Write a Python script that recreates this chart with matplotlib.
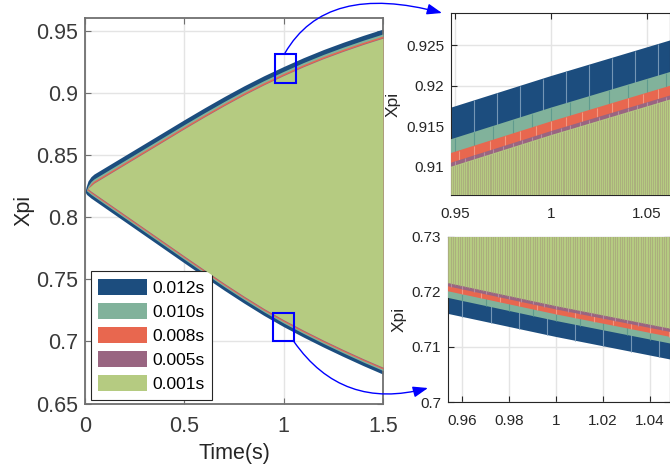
import matplotlib
matplotlib.use("Agg")
import matplotlib.pyplot as plt
import numpy as np
from matplotlib.collections import LineCollection
from matplotlib.patches import Patch, Rectangle, FancyArrowPatch, ArrowStyle
from matplotlib.ticker import FuncFormatter

plt.rcParams["font.family"] = ["Liberation Sans", "DejaVu Sans"]

# outer (0.012s) envelope
t_up = [0.0, 0.006, 0.015, 0.03, 0.045, 0.15, 0.33, 0.5, 0.6, 0.7, 0.8, 0.9, 1.0,
        1.1, 1.2, 1.3, 1.4, 1.5]
env_up = [0.8203, 0.8245, 0.8290, 0.8325, 0.8346, 0.8447, 0.8620, 0.8784, 0.8878, 0.8969,
          0.9056, 0.9137, 0.9212, 0.9283, 0.9348, 0.9407, 0.9462, 0.9513]
t_lo = [0.0, 0.008, 0.03, 0.33, 0.5, 0.6, 0.7, 0.8, 0.9, 1.0, 1.1, 1.2, 1.3, 1.4, 1.5]
env_lo = [0.8203, 0.8182, 0.8153, 0.7820, 0.7631, 0.7521, 0.7412, 0.7308, 0.7209, 0.7118,
          0.7034, 0.6954, 0.6878, 0.6805, 0.6736]

labels = ["0.012s", "0.010s", "0.008s", "0.005s", "0.001s"]
periods = [0.012, 0.010, 0.008, 0.005, 0.001]
colors = ["#1c4d7e", "#81b29b", "#e8674f", "#996581", "#b5cb81"]
stripe_colors = ["#7596b5", "#5f9b8e", "#f39780", "#b58aa0", "#a7a47c"]
# how far each band sits inside the outer envelope
inset_up = [0.0, 0.0039, 0.0056, 0.0068, 0.0073]
inset_lo = [0.0, 0.0029, 0.0041, 0.0050, 0.0056]

W, H = 670, 468
fig = plt.figure(figsize=(W / 100, H / 100), dpi=100)


def px_axes(left, top, right, bottom):
    return fig.add_axes([left / W, 1 - bottom / H, (right - left) / W, (bottom - top) / H])


t = np.union1d(t_up, t_lo)
up0 = np.interp(t, t_up, env_up)
lo0 = np.interp(t, t_lo, env_lo)
mid = (up0 + lo0) / 2
bands = []
for du, dl in zip(inset_up, inset_lo):
    bands.append((np.minimum(lo0 + dl, mid), np.maximum(up0 - du, mid)))


def draw_bands(ax, stripes=None):
    for i, (lo, up) in enumerate(bands):
        ax.fill_between(t, lo, up, color=colors[i], lw=0, zorder=2 + i)
        if stripes is not None:
            ts = np.arange(0, 1.5, periods[i])
            ts = ts[(ts > stripes[0]) & (ts < stripes[1])]
            ylo = np.interp(ts, t, lo)
            yup = np.interp(ts, t, up)
            segs = [[(x, a), (x, b)] for x, a, b in zip(ts, ylo, yup)]
            lw = 0.5 if periods[i] < 0.002 else 0.8
            ax.add_collection(LineCollection(segs, colors=stripe_colors[i], linewidths=lw, zorder=2 + i))


def style(ax, size, spine_color, label_color, xpad):
    ax.set_axisbelow(True)
    ax.grid(True, color="#e4e4e4", lw=1.0)
    for s in ax.spines.values():
        s.set_color(spine_color)
    ax.tick_params(direction="in", length=4, labelsize=size, colors=spine_color,
                   labelcolor=label_color, pad=5, top=True, right=True)
    ax.tick_params(axis="x", pad=xpad)
    fmt = FuncFormatter(lambda v, p: f"{v:g}")
    ax.xaxis.set_major_formatter(fmt)
    ax.yaxis.set_major_formatter(fmt)


# main axes
ax = px_axes(85, 18, 383, 403.5)
draw_bands(ax)
ax.set_xlim(0, 1.5)
ax.set_ylim(0.65, 0.9602)
ax.set_xticks([0, 0.5, 1, 1.5])
ax.set_yticks([0.65, 0.7, 0.75, 0.8, 0.85, 0.9, 0.95])
style(ax, 15.5, "#707070", "#3a3a3a", 9)
for s in ax.spines.values():
    s.set_linewidth(1.3)
ax.set_xlabel("Time(s)", fontsize=15.5, color="#262626", labelpad=4)
ax.set_ylabel("Xpi", fontsize=15.5, color="#262626", labelpad=1)
ax.add_patch(Rectangle((0.957, 0.908), 0.105, 0.023, fill=False, ec="#0000ff", lw=1.5, zorder=10))
ax.add_patch(Rectangle((0.945, 0.7006), 0.107, 0.0222, fill=False, ec="#0000ff", lw=1.5, zorder=10))
handles = [Patch(facecolor=c, edgecolor="none", label=l) for c, l in zip(colors, labels)]
leg = ax.legend(handles=handles, loc="lower left", bbox_to_anchor=(0.019, 0.0096), borderaxespad=0,
                fontsize=12.5, handlelength=2.8, handleheight=1.0, handletextpad=0.3, labelspacing=0.42,
                borderpad=0.45, fancybox=False, framealpha=1)
leg.get_frame().set_edgecolor("#262626")
leg.get_frame().set_linewidth(0.8)

# top zoom
ax1 = px_axes(451, 13, 670, 195)
draw_bands(ax1, stripes=(0.94, 1.07))
ax1.set_xlim(0.9479, 1.0620)
ax1.set_ylim(0.9065, 0.9290)
ax1.set_xticks([0.95, 1, 1.05])
ax1.set_yticks([0.91, 0.915, 0.92, 0.925])
style(ax1, 11, "#262626", "#262626", 8.5)
ax1.set_ylabel("Xpi", fontsize=12.5, color="#262626", labelpad=4)

# bottom zoom
ax2 = px_axes(448.3, 236.7, 670, 402)
draw_bands(ax2, stripes=(0.95, 1.05))
ax2.set_xlim(0.954, 1.0485)
ax2.set_ylim(0.70, 0.73)
ax2.set_xticks([0.96, 0.98, 1, 1.02, 1.04])
ax2.set_yticks([0.70, 0.71, 0.72, 0.73])
style(ax2, 11, "#262626", "#262626", 8.5)
ax2.set_ylabel("Xpi", fontsize=12.5, color="#262626", labelpad=4)


def fpx(x, y):
    return (x / W, 1 - y / H)


head = ArrowStyle("-|>", head_length=0.6, head_width=0.22)
fig.patches.append(FancyArrowPatch(fpx(285, 53), fpx(442, 13), transform=fig.transFigure,
                                   connectionstyle="angle3,angleA=60,angleB=-15", arrowstyle=head,
                                   mutation_scale=15, color="#0000ff", lw=1.0, shrinkA=0, shrinkB=0))
fig.patches.append(FancyArrowPatch(fpx(294, 341.7), fpx(428, 388), transform=fig.transFigure,
                                   connectionstyle="angle3,angleA=-55,angleB=15", arrowstyle=head,
                                   mutation_scale=15, color="#0000ff", lw=1.0, shrinkA=0, shrinkB=0))

fig.savefig("out.png", dpi=100)
